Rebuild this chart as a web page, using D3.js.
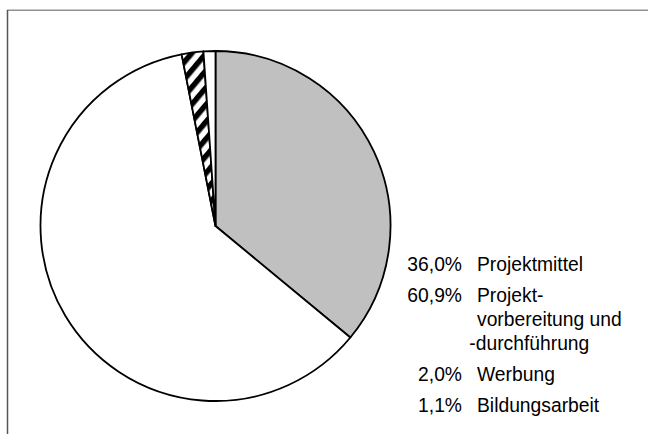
<!DOCTYPE html>
<html>
<head>
<meta charset="utf-8">
<script src="https://cdn.jsdelivr.net/npm/d3@7/dist/d3.min.js"></script>
<style>
  html, body { margin: 0; padding: 0; background: #fff; }
  svg { display: block; }
  text { font-family: "Liberation Sans", Arial, sans-serif; }
</style>
</head>
<body>
<svg id="chart" width="648" height="434"></svg>
<script>
// Budget shares (percent), clockwise from 12 o'clock
const categories = ["Projektmittel", "Projektvorbereitung und -durchführung", "Werbung", "Bildungsarbeit"];
const values = [36.0, 60.9, 2.0, 1.1];
const percentLabels = ["36,0%", "60,9%", "2,0%", "1,1%"];
const labelLines = [
  ["Projektmittel"],
  ["Projekt-", "vorbereitung und", "-durchführung"],
  ["Werbung"],
  ["Bildungsarbeit"]
];
const fills = ["#c0c0c0", "#ffffff", "url(#hatch)", "#ffffff"];

const svg = d3.select("#chart");
const W = 648, H = 434;

// diagonal stripe pattern for the small slice
const defs = svg.append("defs");
const pat = defs.append("pattern")
  .attr("id", "hatch")
  .attr("patternUnits", "userSpaceOnUse")
  .attr("width", 11).attr("height", 11)
  .attr("patternTransform", "rotate(40)");
pat.append("rect").attr("width", 11).attr("height", 11).attr("fill", "#fff");
pat.append("rect").attr("x", 0).attr("y", 0).attr("width", 5.5).attr("height", 11).attr("fill", "#000");

// chart frame
svg.append("line").attr("x1", 7).attr("y1", 9).attr("x2", W).attr("y2", 9)
  .attr("stroke", "#c8c8c8").attr("stroke-width", 1).attr("shape-rendering", "crispEdges");
svg.append("line").attr("x1", 7).attr("y1", 10).attr("x2", W).attr("y2", 10)
  .attr("stroke", "#909090").attr("stroke-width", 1).attr("shape-rendering", "crispEdges");
svg.append("line").attr("x1", 7.5).attr("y1", 10).attr("x2", 7.5).attr("y2", H)
  .attr("stroke", "#555").attr("stroke-width", 1.5);

// pie
const cx = 215.5, cy = 226, r = 175;
const pie = d3.pie().sort(null).value(d => d)(values);
const arc = d3.arc().innerRadius(0).outerRadius(r);

const g = svg.append("g").attr("transform", `translate(${cx},${cy})`);
g.selectAll("path.slice")
  .data(pie)
  .join("path")
  .attr("class", "slice")
  .attr("d", arc)
  .attr("fill", (d, i) => fills[i])
  .attr("stroke", "#000")
  .attr("stroke-width", 1.8)
  .attr("stroke-linejoin", "round");

// legend: percentage right-aligned, label text to its right
const pctX = 462, labX = 477;
const fontSize = 19.3, lineH = 24, entryGap = 31;
const leg = svg.append("g").attr("font-size", fontSize).attr("fill", "#000");

let y = 271;
categories.forEach((c, i) => {
  leg.append("text")
    .attr("x", pctX).attr("y", y)
    .attr("text-anchor", "end")
    .text(percentLabels[i]);
  const t = leg.append("text").attr("y", y);
  labelLines[i].forEach((line, j) => {
    const ts = t.append("tspan")
      .attr("x", labX)
      .attr("y", y + j * lineH)
      .text(line);
    // a leading hyphen hangs into the margin
    if (j > 0 && line.startsWith("-")) {
      ts.attr("x", labX - fontSize * 0.4);
    }
  });
  y += (labelLines[i].length - 1) * lineH + entryGap;
});
</script>
</body>
</html>
